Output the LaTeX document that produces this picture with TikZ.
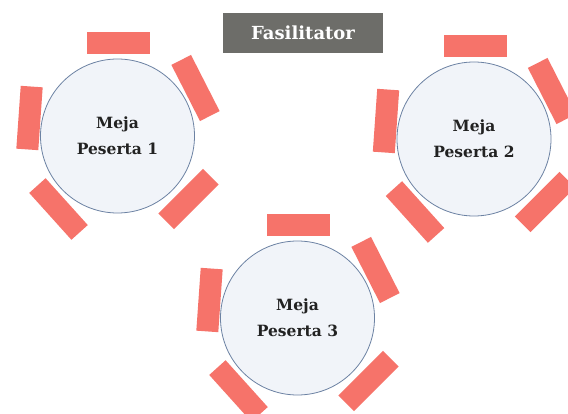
\documentclass[tikz,border=0pt]{standalone}
\usepackage{fontspec}
\newfontfamily\labelfont{DejaVu Serif}
\definecolor{seatred}{HTML}{F6736A}
\definecolor{tablefill}{HTML}{F1F4F9}
\definecolor{tableedge}{HTML}{6C82A3}
\definecolor{boxgrey}{HTML}{6D6D69}
\definecolor{labelink}{HTML}{222222}
\tikzset{
  mejabox/.style={circle, draw=tableedge, line width=0.8pt, fill=tablefill,
    minimum size=154pt, inner sep=0pt, align=center, text=labelink,
    font=\labelfont\bfseries\fontsize{15.5}{26}\selectfont},
  seat/.style={fill=seatred, minimum width=63pt, minimum height=22pt, inner sep=0pt},
  facilbox/.style={fill=boxgrey, minimum width=160pt, minimum height=40pt,
    inner sep=0pt, text=white, font=\labelfont\bfseries\fontsize{18}{20}\selectfont},
}
% one participant table with its five chairs
\newcommand{\mejapeserta}[4]{%
  \node[mejabox] (#1) at (#2,#3) {Meja\\Peserta #4};
  \node[seat] (#1top) at ([shift={(1,-93)}]#1.center) {};
  \node[seat, rotate=-63] (#1ur) at ([shift={(78,-48)}]#1.center) {};
  \node[seat, rotate=86] (#1l) at ([shift={(-88,-18)}]#1.center) {};
  \node[seat, rotate=-48] (#1ll) at ([shift={(-59,73)}]#1.center) {};
  \node[seat, rotate=45] (#1lr) at ([shift={(71,63)}]#1.center) {};
}
\begin{document}
\begin{tikzpicture}[x=1pt, y=-1pt]
  \useasboundingbox[fill=white] (0,0) rectangle (568,414);
  \node[facilbox] (fasil) at (303,33) {Fasilitator};
  \mejapeserta{meja1}{117.5}{136}{1}
  \mejapeserta{meja2}{474}{139}{2}
  \mejapeserta{meja3}{297.5}{318}{3}
\end{tikzpicture}
\end{document}
